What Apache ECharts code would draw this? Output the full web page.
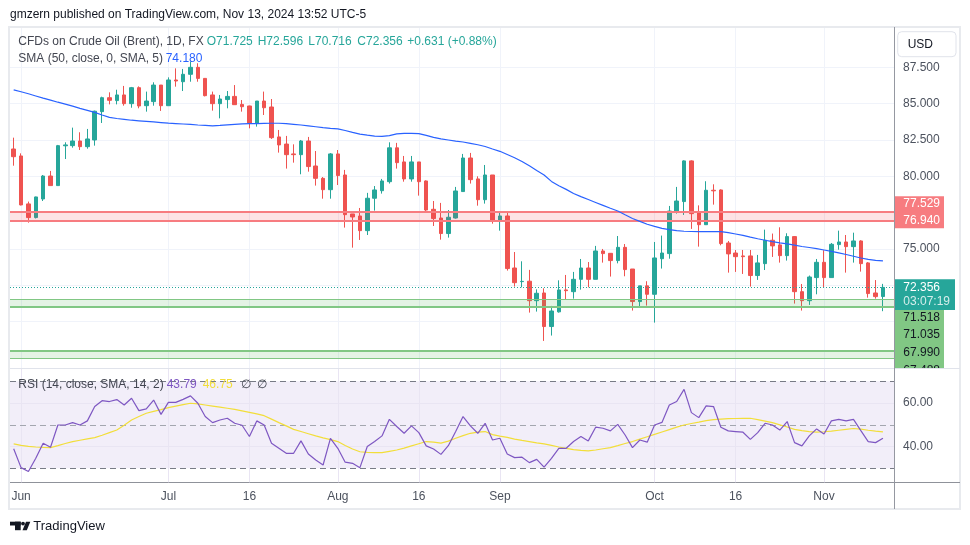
<!DOCTYPE html>
<html><head><meta charset="utf-8">
<script src="https://cdn.jsdelivr.net/npm/echarts@6/dist/echarts.min.js"></script>
<style>html,body{margin:0;padding:0;background:#fff}#c{width:970px;height:545px}</style>
</head><body><div id="c"></div><script>
const FONT = '"Liberation Sans", Arial, sans-serif';
const UP = '#26a69a', DOWN = '#ef5350';

// trading days (weekdays) May 31 2024 .. Nov 13 2024
const tradingDays = (() => { const out = []; const d = new Date(Date.UTC(2024, 4, 31)); const end = Date.UTC(2024, 10, 13);
  while (d.getTime() <= end) { const wd = d.getUTCDay(); if (wd !== 0 && wd !== 6) out.push(d.toISOString().slice(0, 10)); d.setUTCDate(d.getUTCDate() + 1); }
  return out; })();
const categories = tradingDays.concat(['']);

const xTickDates = ['2024-06-03','2024-07-01','2024-07-16','2024-08-01','2024-08-16','2024-09-02','2024-10-01','2024-10-16','2024-11-01'];
const xTickLabels = ['Jun','Jul','16','Aug','16','Sep','Oct','16','Nov'];

// [open, high, low, close]
const priceOHLC = [
[81.88,82.66,80.73,81.35],[81.40,81.58,78.00,78.03],[78.10,78.26,76.81,77.16],[77.16,78.60,77.10,78.58],[78.44,80.09,78.30,80.02],
[80.02,80.37,79.36,79.36],[79.36,82.16,79.36,82.11],[82.10,82.34,81.19,82.16],[82.11,83.35,81.97,82.43],[82.43,83.03,81.81,82.04],
[82.04,83.26,81.90,82.57],[82.50,84.52,82.11,84.48],[84.45,85.48,83.67,85.41],[85.41,85.78,84.95,85.23],[85.21,85.96,84.95,85.60],
[85.60,86.22,84.86,85.00],[85.00,86.15,84.72,86.10],[86.10,86.19,84.68,84.84],[84.86,85.83,84.45,85.18],[85.14,86.47,84.86,86.28],
[86.28,86.28,84.50,84.86],[84.86,86.81,84.86,86.63],[86.63,87.43,86.17,86.56],[86.51,87.39,85.87,87.02],[87.02,87.90,86.51,87.50],
[87.50,87.78,86.51,86.74],[86.74,86.76,85.50,85.55],[85.60,85.83,84.52,85.00],[85.00,85.60,83.99,85.32],[85.28,85.87,84.68,85.50],
[85.50,86.28,84.93,84.93],[84.95,85.25,84.45,84.79],[84.84,84.86,83.30,83.65],[83.65,85.18,83.42,85.18],[85.18,85.83,84.22,84.72],
[84.77,85.32,82.57,82.66],[82.71,83.19,81.63,82.16],[82.22,82.78,80.53,81.49],[81.54,82.20,80.94,81.49],[81.49,82.50,80.14,82.43],
[82.43,82.71,80.32,80.67],[80.71,81.74,79.36,79.86],[79.86,79.95,78.46,79.08],[79.08,81.60,78.46,81.54],[81.54,81.81,79.40,80.05],
[80.09,80.44,76.47,77.36],[77.41,77.41,75.09,77.20],[77.27,77.82,75.62,76.26],[76.26,78.86,75.96,78.49],[78.49,79.33,77.64,79.06],
[79.01,79.82,78.81,79.68],[79.63,82.34,79.50,81.96],[81.96,82.30,80.53,80.94],[80.99,81.40,79.63,79.82],[79.82,81.40,79.63,80.99],
[80.99,80.99,78.67,79.63],[79.68,79.72,77.52,77.68],[77.73,78.30,76.58,77.09],[77.13,78.17,75.64,76.06],[76.06,77.68,75.78,77.18],
[77.13,79.27,77.09,78.99],[78.95,81.54,78.95,81.26],[81.26,81.61,79.50,79.77],[79.82,80.00,77.98,78.39],[78.39,80.78,78.12,80.09],
[80.09,80.09,76.74,76.95],[76.95,77.61,76.26,77.27],[77.27,77.55,73.51,73.65],[73.69,74.79,72.41,72.68],[72.75,74.15,72.36,72.77],
[72.78,73.56,70.62,71.44],[71.44,72.22,70.69,71.95],[71.97,72.29,68.67,69.66],[69.66,71.08,69.04,70.73],[70.67,72.84,70.62,72.18],
[72.18,73.21,71.49,72.13],[72.06,73.42,71.58,72.91],[72.91,74.31,72.20,73.69],[73.69,74.10,72.36,72.91],[72.91,75.21,72.91,74.86],
[74.86,75.00,74.06,74.68],[74.70,74.72,73.10,74.20],[74.20,75.89,74.01,75.11],[75.11,75.34,73.12,73.58],[73.62,73.62,70.76,71.38],
[71.38,72.46,70.96,72.46],[72.46,72.78,71.10,71.88],[71.88,75.48,69.93,74.38],[74.33,75.92,73.65,74.72],[74.68,77.96,74.33,77.61],
[77.57,79.27,77.43,78.30],[78.26,81.10,77.34,81.06],[81.06,81.10,76.38,77.43],[77.48,78.00,75.16,76.67],[76.67,79.66,76.67,79.04],
[79.04,79.45,78.05,79.00],[79.06,79.10,75.25,75.37],[75.41,75.55,73.37,74.66],[74.72,74.93,73.42,74.47],[74.52,74.93,73.28,74.47],
[74.52,74.93,72.41,73.17],[73.17,74.59,72.87,74.04],[73.99,76.33,73.55,75.60],[75.60,76.06,74.45,75.21],[75.28,76.49,74.06,74.54],
[74.54,76.08,74.20,75.85],[75.85,75.89,71.24,72.06],[72.06,72.59,70.76,71.44],[71.44,73.17,71.15,73.07],[73.03,74.31,71.88,74.08],
[74.08,74.91,72.34,73.03],[73.03,75.41,73.03,75.32],[75.30,76.26,74.95,75.48],[75.48,75.96,73.37,75.16],[75.16,76.12,74.06,75.55],
[75.55,75.60,73.44,73.99],[74.04,74.10,71.65,71.93],[71.97,72.86,71.58,71.72],[71.725,72.596,70.716,72.356]
];

const sma50 = [
85.95,85.82,85.68,85.53,85.38,85.24,85.10,84.97,84.83,84.68,
84.54,84.40,84.22,84.06,83.98,83.92,83.86,83.82,83.78,83.74,
83.70,83.66,83.63,83.60,83.57,83.53,83.50,83.47,83.50,83.54,
83.58,83.61,83.62,83.63,83.64,83.65,83.65,83.62,83.58,83.53,
83.47,83.41,83.35,83.30,83.27,83.15,83.02,82.90,82.83,82.77,
82.75,82.80,82.92,82.95,82.95,82.94,82.82,82.68,82.58,82.50,
82.42,82.36,82.27,82.17,82.05,81.88,81.72,81.50,81.28,81.02,
80.72,80.40,80.09,79.65,79.35,79.10,78.82,78.60,78.40,78.20,
78.00,77.80,77.61,77.35,77.10,76.90,76.70,76.55,76.42,76.33,
76.26,76.22,76.20,76.19,76.19,76.19,76.19,76.12,76.03,75.93,
75.81,75.70,75.60,75.50,75.42,75.35,75.26,75.17,75.10,75.02,
74.93,74.83,74.73,74.62,74.50,74.38,74.28,74.22,74.18];

const rsi = [
39.0,30.3,28.5,34.6,41.5,39.7,49.9,49.9,51.0,49.9,
51.8,58.4,61.1,60.7,61.6,59.1,62.2,56.5,57.3,61.4,
54.8,60.3,60.3,61.7,63.3,59.9,53.8,51.0,52.2,53.0,
50.7,49.8,44.6,51.8,49.9,41.5,39.2,36.9,36.9,42.6,
36.6,33.8,31.5,43.8,39.2,32.8,32.3,30.3,40.0,42.3,
44.9,52.5,49.2,46.1,49.5,46.4,40.3,38.9,36.4,40.4,
46.9,53.8,49.5,46.1,50.7,43.0,43.8,36.6,34.9,35.1,
32.6,34.1,30.5,34.6,39.2,39.2,42.3,44.6,42.6,48.9,
48.4,47.2,50.2,45.3,39.5,43.0,42.0,49.9,51.1,59.1,
60.7,66.3,55.6,53.3,58.7,58.4,48.9,47.2,46.9,46.6,
43.3,46.4,50.7,49.9,47.6,51.5,41.8,40.3,44.9,48.1,
45.8,51.8,52.5,51.8,52.5,47.3,42.3,41.8,43.79];

const rsiMA = [
41.2,40.5,40.1,39.8,39.6,39.5,40.4,41.4,42.3,42.9,
43.5,44.1,45.2,46.4,47.6,49.8,52.2,53.8,55.3,56.2,
57.0,57.9,58.6,59.3,59.9,59.6,59.1,58.6,58.1,57.6,
57.1,56.4,55.7,55.0,54.2,52.6,51.0,49.5,47.9,46.9,
45.9,44.9,44.0,43.2,42.3,40.5,38.9,37.6,37.3,37.2,
37.2,37.8,38.4,39.3,40.3,41.3,42.3,42.0,41.6,42.5,
43.8,45.0,46.1,46.6,46.9,45.5,44.8,44.2,43.4,42.8,
42.3,41.7,41.2,40.5,39.8,39.2,38.6,38.2,38.0,38.4,
39.0,39.5,40.4,41.4,42.3,43.4,44.5,45.6,46.7,47.8,
48.9,49.9,50.6,51.2,51.9,52.4,52.6,52.8,52.9,53.0,
53.0,52.4,51.7,51.0,50.0,49.0,47.9,47.3,46.9,46.6,
46.8,47.1,47.5,47.9,48.3,48.0,47.5,47.1,46.75];

const priceTicks = [67.5,70,72.5,75,77.5,80,82.5,85,87.5];
const priceTicksShown = [75,80,82.5,85,87.5];
const rsiTicks = [40,60];
const resistance = [77.529, 76.940];
const support1 = [71.518, 71.035];
const support2 = [67.990, 67.488];
const lastPrice = 72.356;
const countdown = '03:07:19';

const tickMap = new Map(xTickDates.map((d, i) => [d, xTickLabels[i]]));
const candleData = priceOHLC.map(r => [r[0], r[3], r[2], r[1]]);
const RED = '#f77c80', GREEN = '#81c784';

const chart = echarts.init(document.getElementById('c'), null, {renderer: 'canvas'});
const vGrid = xTickDates.map(d => ({xAxis: d}));
const hGrid = priceTicks.map(v => ({yAxis: v, label: {show: priceTicksShown.includes(v), formatter: v.toFixed(3)}}));
const axisLabelStyle = {position: 'end', distance: 9, color: '#4c525e', fontSize: 12, fontFamily: FONT};

chart.setOption({
  animation: false,
  backgroundColor: '#ffffff',
  textStyle: {fontFamily: FONT},
  grid: [{left: 10, right: 76, top: 28, height: 340}, {left: 10, right: 76, top: 369, height: 113.3}],
  xAxis: [
    {type: 'category', gridIndex: 0, data: categories, boundaryGap: true, axisLine: {show: false}, axisTick: {show: false}, axisLabel: {show: false}, splitLine: {show: false}},
    {type: 'category', gridIndex: 1, data: categories, boundaryGap: true, axisLine: {show: true, lineStyle: {color: '#8f929a'}}, axisTick: {show: false},
     axisLabel: {interval: (i, v) => tickMap.has(v), formatter: v => tickMap.get(v) || '', color: '#4c525e', fontSize: 12, fontFamily: FONT, margin: 8}, splitLine: {show: false}}
  ],
  yAxis: [
    {type: 'value', gridIndex: 0, position: 'right', min: 66.807, max: 90.207, axisLine: {show: false}, axisTick: {show: false}, axisLabel: {show: false}, splitLine: {show: false}},
    {type: 'value', gridIndex: 1, position: 'right', min: 23.56, max: 75.66, axisLine: {show: false}, axisTick: {show: false}, axisLabel: {show: false}, splitLine: {show: false}}
  ],
  series: [
    {type: 'line', xAxisIndex: 0, yAxisIndex: 0, data: [], silent: true,
     markLine: {z: 1, silent: true, symbol: ['none', 'none'], lineStyle: {color: '#f0f3fa', width: 1, type: 'solid'},
       label: Object.assign({show: false}, axisLabelStyle), emphasis: {disabled: true}, data: vGrid.concat(hGrid)}},
    {type: 'candlestick', xAxisIndex: 0, yAxisIndex: 0, z: 3, barWidth: 4, data: candleData,
     itemStyle: {color: UP, color0: DOWN, borderColor: UP, borderColor0: DOWN, borderWidth: 1},
     markArea: {z: 4, silent: true, data: [
       [{yAxis: resistance[0], itemStyle: {color: 'rgba(242,54,69,0.14)'}}, {yAxis: resistance[1]}],
       [{yAxis: support1[0], itemStyle: {color: 'rgba(76,175,80,0.15)'}}, {yAxis: support1[1]}],
       [{yAxis: support2[0], itemStyle: {color: 'rgba(76,175,80,0.15)'}}, {yAxis: support2[1]}]
     ]},
     markLine: {z: 5, silent: true, symbol: ['none', 'none'], label: {show: false}, emphasis: {disabled: true}, data: [
       {yAxis: resistance[0], lineStyle: {color: RED, width: 2, type: 'solid'}},
       {yAxis: resistance[1], lineStyle: {color: RED, width: 2, type: 'solid'}},
       {yAxis: support1[0], lineStyle: {color: GREEN, width: 1.2, type: 'solid'}},
       {yAxis: support1[1], lineStyle: {color: GREEN, width: 2.2, type: 'solid'}},
       {yAxis: support2[0], lineStyle: {color: GREEN, width: 2.2, type: 'solid'}},
       {yAxis: support2[1], lineStyle: {color: GREEN, width: 1.2, type: 'solid'}},
       {yAxis: lastPrice, lineStyle: {color: UP, width: 1, type: [1, 2]}}
     ]}},
    {type: 'line', xAxisIndex: 0, yAxisIndex: 0, z: 6, data: sma50, showSymbol: false, silent: true, lineStyle: {color: '#2962ff', width: 1.2}},
    {type: 'line', xAxisIndex: 1, yAxisIndex: 1, data: [], silent: true,
     markArea: {z: 1, silent: true, data: [[{yAxis: 70, itemStyle: {color: 'rgba(126,87,194,0.1)'}}, {yAxis: 30}]]},
     markLine: {z: 2, silent: true, symbol: ['none', 'none'], label: Object.assign({show: false}, axisLabelStyle), emphasis: {disabled: true},
       lineStyle: {color: '#e9e5f3', width: 1, type: 'solid'},
       data: vGrid.concat(rsiTicks.map(v => ({yAxis: v, label: {show: true, formatter: v.toFixed(2)}})), [
         {yAxis: 70, lineStyle: {color: '#787b86', type: [6, 4]}},
         {yAxis: 50, lineStyle: {color: '#a3a6af', type: [6, 4]}},
         {yAxis: 30, lineStyle: {color: '#787b86', type: [6, 4]}}
       ])}},
    {type: 'line', xAxisIndex: 1, yAxisIndex: 1, z: 4, data: rsi, showSymbol: false, silent: true, lineStyle: {color: '#7e57c2', width: 1.2}},
    {type: 'line', xAxisIndex: 1, yAxisIndex: 1, z: 3, data: rsiMA, showSymbol: false, silent: true, lineStyle: {color: '#f2de3a', width: 1.2}}
  ]
});

const yP = v => chart.convertToPixel({yAxisIndex: 0}, v);
const txt = (text, x, y, fill, size, extra) => Object.assign({type: 'text', x: x, y: y, z: 100,
  style: {text: text, fill: fill, font: (size || 12) + 'px ' + FONT, textAlign: 'left', verticalAlign: 'middle'}}, extra || {});
const rect = (x, y, w, h, fill, extra) => Object.assign({type: 'rect', z: 90, shape: {x: x, y: y, width: w, height: h}, style: {fill: fill}}, extra || {});
const line = (x1, y1, x2, y2, color, z) => ({type: 'line', z: z || 95, shape: {x1: x1, y1: y1, x2: x2, y2: y2}, style: {stroke: color, lineWidth: 1}});

const yR = yP(resistance[1]);
const yT = yP(lastPrice);
const els = [
  {type: 'rect', z: 80, shape: {x: 9, y: 27, width: 951, height: 482}, style: {fill: 'none', stroke: '#e8eaee', lineWidth: 2}},
  txt('gmzern published on TradingView.com, Nov 13, 2024 13:52 UTC-5', 10, 15, '#131722', 12),
  txt('CFDs on Crude Oil (Brent), 1D, FX', 18.3, 42, '#434651', 12),
  txt('O71.725', 206.7, 42, UP, 12), txt('H72.596', 257.7, 42, UP, 12), txt('L70.716', 308.3, 42, UP, 12),
  txt('C72.356', 357.3, 42, UP, 12), txt('+0.631 (+0.88%)', 407.3, 42, UP, 12),
  txt('SMA (50, close, 0, SMA, 5)', 18.3, 58.7, '#434651', 12), txt('74.180', 165.7, 58.7, '#2962ff', 12),
  txt('RSI (14, close, SMA, 14, 2)', 18.3, 385, '#434651', 12), txt('43.79', 166.7, 385, '#7e57c2', 12),
  txt('46.75', 202.7, 385, '#f2de3a', 12), txt('\u2205', 240.7, 385, '#434651', 12), txt('\u2205', 256.7, 385, '#434651', 12),
  {type: 'rect', z: 90, shape: {x: 897.7, y: 31.7, width: 58.3, height: 25, r: 4}, style: {fill: '#ffffff', stroke: '#e0e3eb', lineWidth: 1}},
  txt('USD', 907.7, 44.3, '#131722', 12),
  // red badge
  rect(895, yR - 24.4, 49, 32, RED), txt(resistance[0].toFixed(3), 903.3, yR - 17.4, '#ffffff', 12), txt(resistance[1].toFixed(3), 903.3, yR, '#ffffff', 12),
  // teal badge
  rect(895, yT - 8.1, 60, 30.7, UP), txt(lastPrice.toFixed(3), 903.3, yT, '#ffffff', 12), txt(countdown, 903.3, yT + 14.3, 'rgba(255,255,255,0.8)', 12),
  // green badge
  rect(895, yT + 22.6, 49, 368 - (yT + 22.6), GREEN),
  txt(support1[0].toFixed(3), 903.3, yT + 30, '#131722', 12), txt(support1[1].toFixed(3), 903.3, yT + 47.7, '#131722', 12),
  txt(support2[0].toFixed(3), 903.3, yT + 65.4, '#131722', 12), txt(support2[1].toFixed(3), 903.3, yT + 83.1, '#131722', 12),
  rect(894.5, 368.2, 64, 12, '#ffffff', {z: 110}),
  line(10, 368.5, 960, 368.5, '#e0e3eb', 111),
  line(894.5, 27, 894.5, 509, '#9598a1', 112),
  line(894.5, 482.5, 960, 482.5, '#8f929a', 112),
  // TradingView logo
  rect(10, 521.7, 10.7, 3.8, '#131722'), rect(15, 521.7, 5.7, 8.5, '#131722'),
  {type: 'circle', z: 90, shape: {cx: 23, cy: 523.6, r: 1.9}, style: {fill: '#131722'}},
  {type: 'polygon', z: 90, shape: {points: [[26, 521.7], [30.3, 521.7], [26.8, 530.2], [22.5, 530.2]]}, style: {fill: '#131722'}},
  txt('TradingView', 33.3, 526.5, '#131722', 13)
];
chart.setOption({graphic: {elements: els}});
</script></body></html>
